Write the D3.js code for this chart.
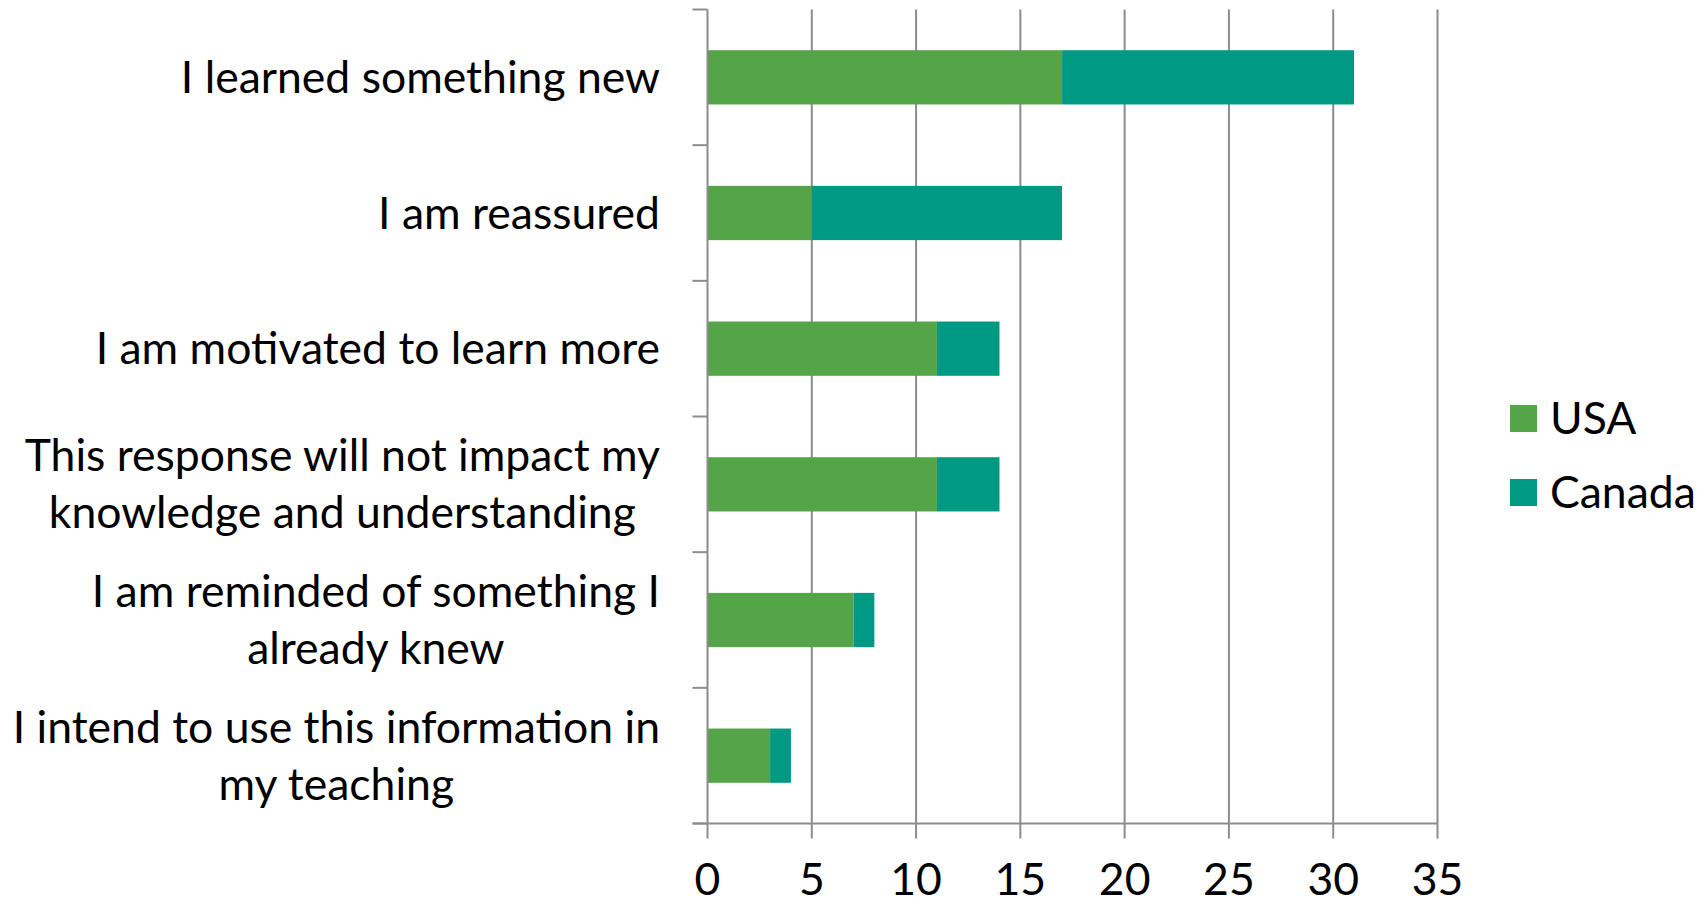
<!DOCTYPE html>
<html>
<head>
<meta charset="utf-8">
<script src="https://cdn.jsdelivr.net/npm/d3@7"></script>
<style>
  html, body { margin: 0; padding: 0; background: #fff; }
  text { font-family: Lato, "Open Sans", sans-serif; fill: #000; }
</style>
</head>
<body>
<div id="graphic"></div>
<script>
var categories = [
  "I learned something new",
  "I am reassured",
  "I am motivated to learn more",
  "This response will not impact my\nknowledge and understanding",
  "I am reminded of something I\nalready knew",
  "I intend to use this information in\nmy teaching"
];
var usa = [17, 5, 11, 11, 7, 3];
var canada = [14, 12, 3, 3, 1, 1];
var seriesNames = ["USA", "Canada"];
var seriesColors = ["#53a547", "#009a84"];
var xTicks = [0, 5, 10, 15, 20, 25, 30, 35];

var width = 1707, height = 905;
var fontSize = 44.5;
var gridColor = "#8c8c8c";

var svg = d3.select("#graphic").append("svg")
  .attr("width", width).attr("height", height);

var x = d3.scaleLinear().domain([0, 35]).range([707.5, 1437.5]);
var y = d3.scaleBand().domain(categories).range([9.5, 823.5])
  .paddingInner(0.6).paddingOuter(0.3);

// band edges for the category ticks
var step = y.step();
var bandTop = function(c) { return y(c) - step * 0.3; };

// gridlines
svg.append("g").selectAll("line").data(xTicks.slice(1)).enter().append("line")
  .attr("x1", function(d) { return x(d); }).attr("x2", function(d) { return x(d); })
  .attr("y1", 9.5).attr("y2", 823.5)
  .attr("stroke", gridColor).attr("stroke-width", 2);

// stacked bars
var stack = d3.stack().keys([0, 1])
  .value(function(d, k) { return k === 0 ? usa[d] : canada[d]; });
var layers = stack(d3.range(categories.length));

svg.append("g").selectAll("g").data(layers).enter().append("g")
  .attr("fill", function(d, i) { return seriesColors[i]; })
  .selectAll("rect").data(function(d) { return d; }).enter().append("rect")
  .attr("x", function(d) { return x(d[0]); })
  .attr("width", function(d) { return x(d[1]) - x(d[0]); })
  .attr("y", function(d) { return y(categories[d.data]); })
  .attr("height", y.bandwidth());

// y axis line and ticks
var axisG = svg.append("g").attr("stroke", gridColor).attr("stroke-width", 2);
axisG.append("line").attr("x1", x(0)).attr("x2", x(0)).attr("y1", 9.5).attr("y2", 823.5);
var edges = categories.map(bandTop).concat([823.5]);
axisG.selectAll(".yt").data(edges).enter().append("line")
  .attr("x1", x(0) - 15).attr("x2", x(0))
  .attr("y1", function(d) { return d; }).attr("y2", function(d) { return d; });

// x axis
axisG.append("line").attr("x1", x(0) - 15).attr("x2", x(35)).attr("y1", 823.5).attr("y2", 823.5);
axisG.selectAll(".xt").data(xTicks).enter().append("line")
  .attr("x1", function(d) { return x(d); }).attr("x2", function(d) { return x(d); })
  .attr("y1", 823.5).attr("y2", 838.5);

svg.append("g").selectAll("text").data(xTicks).enter().append("text")
  .attr("x", function(d) { return x(d); }).attr("y", 895)
  .attr("text-anchor", "middle").style("font-size", fontSize + "px")
  .text(function(d) { return d; });

// category labels: multi-line labels are centred within a right-aligned block
var labelRight = 660, lineH = 57;
categories.forEach(function(c) {
  var lines = c.split("\n");
  var cy = y(c) + y.bandwidth() / 2;
  var g = svg.append("g");
  var texts = lines.map(function(l, i) {
    return g.append("text")
      .attr("y", cy + (i - (lines.length - 1) / 2) * lineH)
      .attr("dy", "0.35em")
      .style("font-size", fontSize + "px")
      .text(l);
  });
  var maxW = d3.max(texts, function(t) { return t.node().getComputedTextLength(); });
  texts.forEach(function(t) {
    t.attr("x", labelRight - maxW / 2).attr("text-anchor", "middle");
  });
});

// legend
var legend = svg.append("g").selectAll("g").data(seriesNames).enter().append("g")
  .attr("transform", function(d, i) { return "translate(1510," + (405 + i * 74) + ")"; });
legend.append("rect").attr("width", 27).attr("height", 27)
  .attr("fill", function(d, i) { return seriesColors[i]; });
legend.append("text").attr("x", 40).attr("y", 13.5).attr("dy", "0.35em")
  .style("font-size", fontSize + "px")
  .text(function(d) { return d; });
</script>
</body>
</html>
